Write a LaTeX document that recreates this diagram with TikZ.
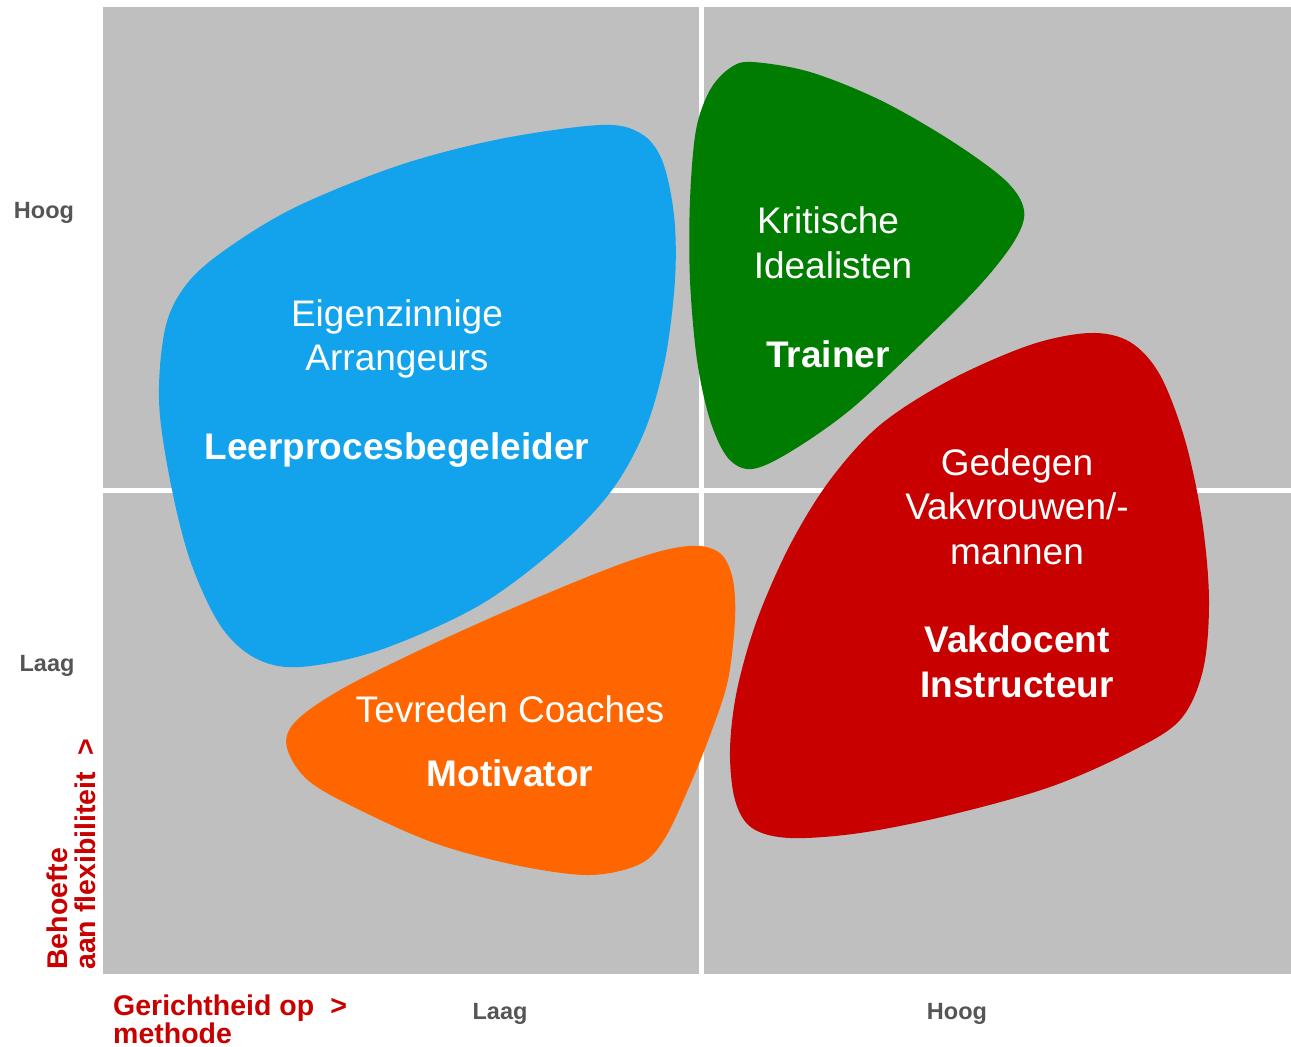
\documentclass[tikz,border=0pt]{standalone}
\usepackage{fontspec}
\setmainfont{Liberation Sans}
\definecolor{quadgray}{RGB}{191,191,191}
\definecolor{blobblue}{RGB}{18,163,236}
\definecolor{blobgreen}{RGB}{0,125,0}
\definecolor{blobred}{RGB}{200,0,0}
\definecolor{bloborange}{RGB}{255,102,0}
\definecolor{axisgray}{RGB}{85,85,85}
\definecolor{labelred}{RGB}{200,0,0}
\begin{document}
\begin{tikzpicture}[x=1pt,y=-1pt,
  quad/.style={fill=quadgray},
  blob/.style={smooth cycle,tension=0.55},
  nametxt/.style={inner sep=0pt,anchor=base,text=white,font=\fontsize{37}{44}\selectfont},
  roletxt/.style={inner sep=0pt,anchor=base,text=white,font=\fontsize{37}{44}\selectfont\bfseries},
  axislbl/.style={inner sep=0pt,anchor=base,text=axisgray,font=\fontsize{23.5}{28}\selectfont\bfseries},
  redlbl/.style={inner sep=0pt,anchor=base west,text=labelred,font=\fontsize{28.5}{28}\selectfont\bfseries}]
\useasboundingbox (0,0) rectangle (1291,1047);
\fill[white] (0,0) rectangle (1291,1047);
% quadrants
\fill[quad] (103,7) rectangle (699,488);
\fill[quad] (704,7) rectangle (1291,488);
\fill[quad] (103,493) rectangle (699,974);
\fill[quad] (704,493) rectangle (1291,974);
% blue blob
\fill[blobblue] plot[blob] coordinates {(600,125) (640,133) (662,160) (674,215) (675,280) (665,360) (645,430) (612,490) (560,545) (480,605) (380,650) (300,667) (255,658) (220,625) (190,560) (170,480) (159,400) (166,325) (190,280) (235,243) (300,205) (400,165) (500,139)};
% green blob
\fill[blobgreen] plot[blob] coordinates {(752,62) (810,72) (880,100) (950,140) (1005,180) (1024,210) (1015,240) (980,285) (920,345) (850,410) (790,452) (752,469) (728,458) (710,420) (697,360) (690,280) (690,200) (696,130) (710,90) (730,68)};
% red blob
\fill[blobred] plot[blob] coordinates {(1090,333) (1130,342) (1160,375) (1185,440) (1202,520) (1209,600) (1203,670) (1180,720) (1130,752) (1050,787) (950,815) (860,833) (790,838) (752,828) (735,800) (730,750) (737,690) (757,620) (790,545) (830,480) (880,425) (950,380) (1030,345)};
% orange blob
\fill[bloborange] plot[blob] coordinates {(700,546) (722,555) (733,580) (735,620) (728,680) (712,730) (690,785) (665,838) (640,864) (590,875) (520,866) (440,845) (370,815) (310,782) (287,748) (295,722) (340,690) (420,650) (520,605) (610,568) (665,550)};
% blue texts
\node[nametxt] (b1) at (397,326) {Eigenzinnige};
\node[nametxt] (b2) at (397,370) {Arrangeurs};
\node[roletxt] (b3) at (397,459) {Leerprocesbegeleider};
% green texts
\node[nametxt] (g1) at (828,233) {Kritische};
\node[nametxt] (g2) at (833,278) {Idealisten};
\node[roletxt] (g3) at (828,367) {Trainer};
% red texts
\node[nametxt] (r1) at (1017,475) {Gedegen};
\node[nametxt] (r2) at (1017,519) {Vakvrouwen/-};
\node[nametxt] (r3) at (1017,564) {mannen};
\node[roletxt] (r4) at (1017,652) {Vakdocent};
\node[roletxt] (r5) at (1017,697) {Instructeur};
% orange texts
\node[nametxt] (o1) at (510,722) {Tevreden Coaches};
\node[roletxt] (o2) at (510,786) {Motivator};
% axis labels
\node[axislbl] (yhoog) at (44,218) {Hoog};
\node[axislbl] (ylaag) at (47,671) {Laag};
\node[axislbl] (xlaag) at (500,1019) {Laag};
\node[axislbl] (xhoog) at (957,1019) {Hoog};
% axis titles
\node[redlbl] (xt1) at (113,1015) {Gerichtheid op\hspace{16pt}>};
\node[redlbl] (xt2) at (113,1043) {methode};
\node[redlbl,rotate=90] (yt1) at (67,970) {Behoefte};
\node[redlbl,rotate=90] (yt2) at (95,970) {aan flexibiliteit\hspace{16pt}>};
\end{tikzpicture}
\end{document}
